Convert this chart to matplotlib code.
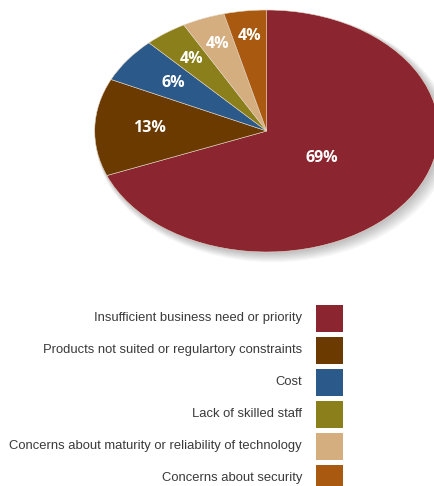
import matplotlib
matplotlib.use("Agg")
import matplotlib.pyplot as plt
from matplotlib.patches import Ellipse
import numpy as np

categories = [
    "Insufficient business need or priority",
    "Products not suited or regulartory constraints",
    "Cost",
    "Lack of skilled staff",
    "Concerns about maturity or reliability of technology",
    "Concerns about security",
]
shares = [69, 13, 6, 4, 4, 4]
colors = ["#8b2630", "#6a3a00", "#2b5a8a", "#8a7f1a", "#d4ae7e", "#a95a10"]

# radial position of each percentage label (fraction of radius)
label_radius = [0.39, 0.68, 0.67, 0.74, 0.77, 0.79]

W, H = 435, 486
fig = plt.figure(figsize=(W / 100, H / 100), dpi=100)

# pie axes placed in pixel units, stretched so the pie reads as an ellipse
cx, cy, rx, ry = 266.7, 131, 172, 121
ax = fig.add_axes([(cx - rx) / W, 1 - (cy + ry) / H, 2 * rx / W, 2 * ry / H])

# soft drop shadow
for i in range(8):
    ax.add_patch(Ellipse((0.01 + 0.004 * i, -0.015 - 0.005 * i), 2.0 + 0.01 * i, 2.0 + 0.01 * i,
                         facecolor="black", edgecolor="none", alpha=0.03, zorder=0,
                         clip_on=False))

wedges, _ = ax.pie(shares, colors=colors, startangle=90, counterclock=False,
                   radius=1.0, frame=True,
                   wedgeprops=dict(edgecolor="#e6d6c6", linewidth=0.4))
ax.set_xlim(-1, 1)
ax.set_ylim(-1, 1)
ax.set_aspect("auto")
ax.axis("off")
for w in wedges:
    w.set_clip_on(False)
    w.set_zorder(2)

for w, val, r in zip(wedges, shares, label_radius):
    ang = np.deg2rad((w.theta1 + w.theta2) / 2)
    ax.text(r * np.cos(ang), r * np.sin(ang), f"{val}%", ha="center", va="center",
            color="white", fontsize=11.5, fontweight="bold", family="Open Sans",
            zorder=3)

# legend drawn as right-aligned text with square swatches
lax = fig.add_axes([0, 0, 1, 1])
lax.set_xlim(0, W)
lax.set_ylim(H, 0)
lax.axis("off")

text_right, longest_px = 302, 294
legend_font = ["Liberation Sans", "DejaVu Sans"]

# shrink the font until the longest entry fits in the space left of the swatches
renderer = fig.canvas.get_renderer()
size = 11.0
probe = lax.text(0, 0, max(categories, key=len), fontsize=size, family=legend_font)
while probe.get_window_extent(renderer).width > longest_px and size > 6:
    size -= 0.1
    probe.set_fontsize(size)
probe.remove()

y0, step = 318, 32
for i, (name, col) in enumerate(zip(categories, colors)):
    y = y0 + i * step
    lax.text(text_right, y, name, ha="right", va="center", fontsize=size,
             family=legend_font, color="#3a3a3a")
    lax.add_patch(plt.Rectangle((316, y - 13.5), 27, 27, facecolor=col, edgecolor="none"))

fig.savefig("out.png", dpi=100)
